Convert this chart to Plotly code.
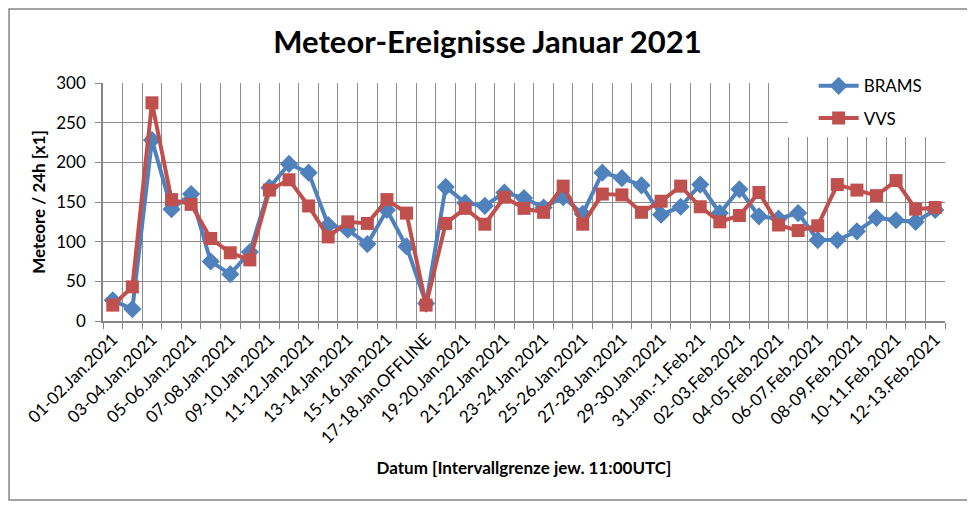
import plotly.graph_objects as go

# categories (one per 24h interval)
categories = [
    "01-02.Jan.2021", "02-03.Jan.2021", "03-04.Jan.2021", "04-05.Jan.2021",
    "05-06.Jan.2021", "06-07.Jan.2021", "07-08.Jan.2021", "08-09.Jan.2021",
    "09-10.Jan.2021", "10-11.Jan.2021", "11-12.Jan.2021", "12-13.Jan.2021",
    "13-14.Jan.2021", "14-15.Jan.2021", "15-16.Jan.2021", "16-17.Jan.2021",
    "17-18.Jan.OFFLINE", "18-19.Jan.2021", "19-20.Jan.2021", "20-21.Jan.2021",
    "21-22.Jan.2021", "22-23.Jan.2021", "23-24.Jan.2021", "24-25.Jan.2021",
    "25-26.Jan.2021", "26-27.Jan.2021", "27-28.Jan.2021", "28-29.Jan.2021",
    "29-30.Jan.2021", "30-31.Jan.2021", "31.Jan.-1.Feb.21", "01-02.Feb.2021",
    "02-03.Feb.2021", "03-04.Feb.2021", "04-05.Feb.2021", "05-06.Feb.2021",
    "06-07.Feb.2021", "07-08.Feb.2021", "08-09.Feb.2021", "09-10.Feb.2021",
    "10-11.Feb.2021", "11-12.Feb.2021", "12-13.Feb.2021",
]

brams = [26, 15, 228, 141, 160, 75, 59, 87, 168, 198, 187, 121, 115, 97, 140,
         94, 22, 169, 149, 145, 162, 155, 143, 156, 135, 187, 180, 171, 134, 144,
         172, 136, 166, 132, 129, 136, 102, 102, 113, 130, 127, 125, 140]

vvs = [20, 43, 275, 153, 147, 104, 86, 77, 165, 178, 145, 106, 125, 123, 153,
       136, 20, 123, 142, 122, 156, 142, 137, 170, 122, 160, 159, 137, 151, 170,
       144, 125, 133, 162, 121, 114, 120, 172, 165, 158, 177, 141, 143]

# only every second interval gets a label
tick_labels = [c if i % 2 == 0 else "" for i, c in enumerate(categories)]

FONT = "Lato"
GRID = "#8c8c8c"
AXIS = "#868686"

fig = go.Figure()
fig.add_trace(go.Scatter(
    x=categories, y=brams, name="BRAMS", legendgroup="a",
    mode="lines+markers",
    line=dict(color="#4F81BD", width=4),
    marker=dict(symbol="diamond", size=14, color="#4F81BD"),
))
fig.add_trace(go.Scatter(
    x=categories, y=vvs, name="VVS", legendgroup="b",
    mode="lines+markers",
    line=dict(color="#C0504D", width=4),
    marker=dict(symbol="square", size=13, color="#C0504D"),
))

# page body adds 8px, so margins are a bit smaller than the target positions
fig.update_layout(
    width=975, height=506,
    margin=dict(l=95, r=38, t=75, b=193),
    paper_bgcolor="white", plot_bgcolor="white",
    font=dict(family=FONT, color="black"),
    title=dict(text="<b>Meteor-Ereignisse Januar 2021</b>",
               x=0.5 - 8 / 975, xref="container", xanchor="center",
               y=0.933, yref="container", yanchor="middle",
               font=dict(size=31, family=FONT), automargin=False),
    legend=dict(x=0.844, y=1.062, xanchor="left", yanchor="top",
                bgcolor="rgba(0,0,0,0)", font=dict(size=17),
                tracegroupgap=7, itemwidth=40),
    showlegend=True,
)

fig.update_xaxes(
    type="category", tickson="boundaries", automargin=False,
    range=[-0.5, len(categories) - 0.5],
    tickvals=categories, ticktext=tick_labels, tickangle=-45,
    tickfont=dict(size=17),
    showgrid=True, gridcolor=GRID, gridwidth=1.2,
    showline=True, linecolor=AXIS, linewidth=1.5,
    ticks="outside", ticklen=6, tickcolor=AXIS,
    title=dict(text="<b>Datum [Intervallgrenze jew. 11:00UTC]</b>",
               font=dict(size=17), standoff=15),
)
fig.update_yaxes(
    range=[0, 300], dtick=50, automargin=False,
    tickfont=dict(size=17), ticklabelstandoff=6,
    showgrid=True, gridcolor=GRID, gridwidth=1.2,
    showline=True, linecolor=AXIS, linewidth=1.5,
    ticks="outside", ticklen=6, tickcolor=AXIS,
    zeroline=False,
    title=dict(text="<b>Meteore / 24h [x1]</b>", font=dict(size=17), standoff=6),
)

# white legend area (hides the grid there, no data reaches it)
fig.add_shape(type="rect", xref="paper", yref="paper", layer="above",
              x0=0.8135, x1=1.004, y0=0.773, y1=1.004,
              fillcolor="white", line=dict(width=0))

# outer chart border
fig.add_shape(type="rect", xref="paper", yref="paper",
              x0=-0.1116, x1=1.0273, y0=-0.752, y1=1.311,
              line=dict(color=AXIS, width=1.5))

fig.write_html("out.html")
